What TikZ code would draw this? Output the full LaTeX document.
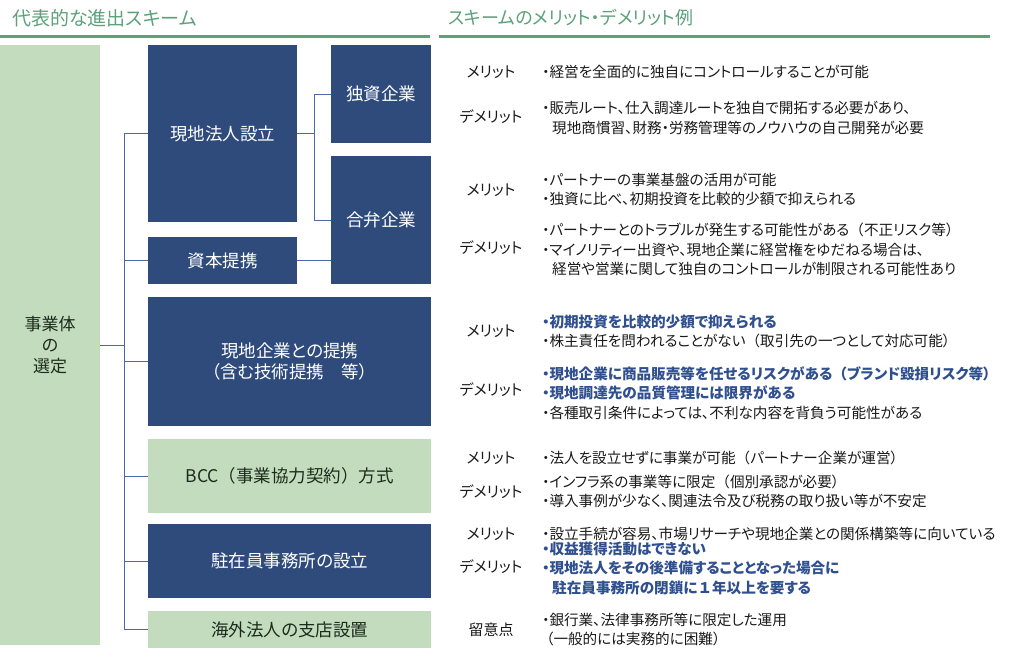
\documentclass[tikz,border=0pt]{standalone}
\usepackage{fontspec}
\setmainfont{Noto Sans CJK JP}[RawFeature=+palt]
\newfontfamily\plainfont{Noto Sans CJK JP}
\usepackage{tikz}
\usetikzlibrary{calc}
\definecolor{boxblue}{HTML}{2F4B7C}
\definecolor{boxgreen}{HTML}{C3DCBE}
\definecolor{titlegreen}{HTML}{5CA17A}
\definecolor{lineblue}{HTML}{4A6AA5}
\definecolor{textblue}{HTML}{2F4F8F}
\definecolor{darktext}{HTML}{1C2B1C}
\tikzstyle{block} = [fill=boxblue, rectangle, text=white, anchor=north west,
    inner sep=0pt, align=center, font=\fontsize{17.5}{20.5}\selectfont]
\tikzstyle{gblock} = [block, fill=boxgreen, text=darktext]
\tikzstyle{title} = [anchor=west, inner sep=0pt, text=titlegreen,
    font=\fontsize{19}{22}\selectfont]
\tikzstyle{tag} = [inner sep=0pt, text=black!90, font=\fontsize{15}{19.5}\selectfont]
\tikzstyle{note} = [anchor=west, align=left, inner sep=0pt, text=black!90,
    font=\fontsize{14.6}{19.5}\selectfont]
\tikzstyle{line} = [draw=lineblue, line width=1pt]
\tikzstyle{rule} = [draw=titlegreen, line width=3pt]
\newcommand{\hl}[1]{\textcolor{textblue}{\bfseries #1}}

\begin{document}
\begin{tikzpicture}[x=1pt, y=-1pt]
    \useasboundingbox (0,0) rectangle (1024,659);
    % headings and their rules
    \node [title] (lefthead) at (12,18) {代表的な進出スキーム};
    \node [title, font=\fontsize{18}{22}\selectfont] (righthead) at (448,18) {スキームのメリット・デメリット例};
    \draw [rule] (0,36) -- (430,36);
    \draw [rule] (439,36) -- (990,36);

    % We start by placing the blocks
    \node [gblock, minimum width=100pt, minimum height=600pt, font=\fontsize{17}{21}\selectfont]
        (root) at (0,45) {事業体\\の\\選定};
    \node [block, minimum width=149pt, minimum height=177pt] (corp) at (148,45) {現地法人設立};
    \node [block, minimum width=100pt, minimum height=98pt] (sole) at (331,45) {独資企業};
    \node [block, minimum width=100pt, minimum height=128pt] (joint) at (331,156) {合弁企業};
    \node [block, minimum width=149pt, minimum height=47pt] (capital) at (148,237) {資本提携};
    \node [block, minimum width=283pt, minimum height=129pt] (local) at (148,297)
        {現地企業との提携\\（含む技術提携　等）};
    \node [gblock, minimum width=283pt, minimum height=74pt] (bcc) at (148,439)
        {BCC{\plainfont （}事業協力契約{\plainfont ）}方式};
    \node [block, minimum width=283pt, minimum height=74pt] (office) at (148,524) {駐在員事務所の設立};
    \node [gblock, minimum width=283pt, minimum height=37pt] (branch) at (148,611) {海外法人の支店設置};

    % the trunk and the fork are plain coordinates
    \coordinate (trunk) at (124,0);
    \coordinate (fork) at (314,0);

    % Once the nodes are placed, connecting them is easy.
    \draw [line] (root.east) -- (root.east -| trunk);
    \draw [line] (corp.west -| trunk) -- (branch.west -| trunk);
    \foreach \n in {corp, capital, local, bcc, office, branch}
        \draw [line] (\n.west -| trunk) -- (\n.west);
    \draw [line] (corp.east) -- (corp.east -| fork);
    \draw [line] (sole.west -| fork) -- (joint.west -| fork);
    \draw [line] (sole.west -| fork) -- (sole.west);
    \draw [line] (joint.west -| fork) -- (joint.west);
    \draw [line] (capital.east) -- (capital.east -| joint.west);

    % merits and demerits
    \node [tag] (lm1) at (491,72) {メリット};
    \node [note] (m1) at (542,72) {・経営を全面的に独自にコントロールすることが可能};
    \node [tag] (ld1) at (491,117) {デメリット};
    \node [note] (d1) at (542,118) {・販売ルート、仕入調達ルートを独自で開拓する必要があり、\\
        \hspace*{10pt}現地商慣習、財務・労務管理等のノウハウの自己開発が必要};

    \node [tag] (lm2) at (491,190) {メリット};
    \node [note] (m2) at (542,189.5) {・パートナーの事業基盤の活用が可能\\
        ・独資に比べ、初期投資を比較的少額で抑えられる};
    \node [tag] (ld2) at (491,248) {デメリット};
    \node [note] (d2) at (542,249.5) {・パートナーとのトラブルが発生する可能性がある{\plainfont （}不正リスク等）\\
        ・マイノリティー出資や、現地企業に経営権をゆだねる場合は、\\
        \hspace*{10pt}経営や営業に関して独自のコントロールが制限される可能性あり};

    \node [tag] (lm3) at (491,331) {メリット};
    \node [note] (m3) at (542,331.5) {\hl{・初期投資を比較的少額で抑えられる}\\
        ・株主責任を問われることがない{\plainfont （}取引先の一つとして対応可能）};
    \node [tag] (ld3) at (491,390) {デメリット};
    \node [note] (d3) at (542,393) {\hl{・現地企業に商品販売等を任せるリスクがある{\plainfont （}ブランド毀損リスク等）}\\
        \hl{・現地調達先の品質管理には限界がある}\\
        ・各種取引条件によっては、不利な内容を背負う可能性がある};

    \node [tag] (lm4) at (491,458) {メリット};
    \node [note] (m4) at (542,458) {・法人を設立せずに事業が可能{\plainfont （}パートナー企業が運営）};
    \node [tag] (ld4) at (491,492) {デメリット};
    \node [note] (d4) at (542,491.5) {・インフラ系の事業等に限定{\plainfont （}個別承認が必要）\\
        ・導入事例が少なく、関連法令及び税務の取り扱い等が不安定};

    \node [tag] (lm5) at (491,534) {メリット};
    \node [note] (m5) at (542,534) {・設立手続が容易、市場リサーチや現地企業との関係構築等に向いている};
    \node [tag] (ld5) at (491,567) {デメリット};
    \node [note] (d5) at (542,568) {\hl{・収益獲得活動はできない}\\
        \hl{・現地法人をその後準備することとなった場合に}\\
        \hl{\hspace*{10pt}駐在員事務所の閉鎖に{\plainfont １}年以上を要する}};

    \node [tag] (lr6) at (491,630) {留意点};
    \node [note] (r6) at (542,629.5) {・銀行業、法律事務所等に限定した運用\\
        \hspace*{4pt}（一般的には実務的に困難）};
\end{tikzpicture}
\end{document}
